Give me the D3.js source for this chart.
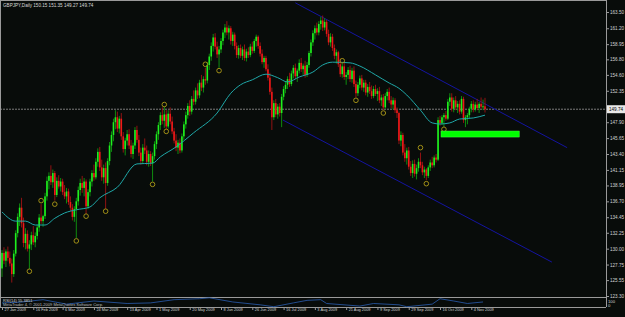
<!DOCTYPE html>
<html>
<head>
<meta charset="utf-8">
<script src="https://cdn.jsdelivr.net/npm/d3@7/dist/d3.min.js"></script>
<style>
  body { margin: 0; background: #080c0a; }
  svg { display: block; }
  text { font-family: "Liberation Sans", Arial, sans-serif; }
</style>
</head>
<body>
<svg id="chart" width="625" height="317"></svg>
<script>
// GBPJPY daily bars, [open, high, low, close]
bars = [
  [127.2,129.8,126.0,129.4],[129.4,130.2,127.8,128.3],[128.3,129.9,127.4,129.6],[129.6,130.3,128.2,128.7],
  [128.7,129.6,127.5,127.9],[127.9,128.6,125.2,126.4],[126.4,129.8,126.0,129.3],[129.3,132.6,128.9,132.2],
  [132.2,135.0,131.6,134.5],[134.5,136.4,133.2,135.8],[135.8,137.2,133.0,133.6],[133.6,134.4,130.2,130.8],
  [130.8,132.9,129.9,132.1],[132.1,132.6,129.6,130.0],[130.0,131.2,127.1,130.6],[130.6,132.4,129.8,131.9],
  [131.9,133.2,130.5,130.9],[130.9,132.3,130.2,131.8],[131.8,133.4,131.3,133.0],[133.0,134.9,132.4,134.4],
  [134.4,136.3,133.5,133.9],[133.9,134.8,133.1,134.6],[134.6,137.9,134.2,137.4],[137.4,140.2,136.8,139.6],
  [139.6,140.8,138.4,140.3],[140.3,141.8,139.0,139.4],[139.4,141.2,138.6,140.7],[140.7,141.0,136.8,137.6],
  [137.6,140.1,137.3,139.6],[139.6,140.4,138.5,138.8],[138.8,140.0,138.1,139.5],[139.5,139.9,137.6,138.0],
  [138.0,139.0,137.0,137.4],[137.4,138.6,136.4,138.1],[138.1,138.5,136.2,136.6],[136.6,137.4,135.3,135.8],
  [135.8,136.3,134.0,134.5],[134.5,136.0,133.8,135.6],[135.6,137.2,131.5,136.7],[136.7,138.8,136.1,138.3],
  [138.3,139.9,137.5,139.3],[139.3,140.3,137.9,138.6],[138.6,140.0,137.4,139.5],[139.5,139.8,134.9,136.0],
  [136.0,138.4,135.6,138.0],[138.0,139.9,137.4,139.5],[139.5,141.1,138.8,140.7],[140.7,141.9,139.6,140.1],
  [140.1,142.8,139.8,142.3],[142.3,144.2,141.6,143.7],[143.7,144.4,141.0,141.5],[141.5,142.6,139.6,140.1],
  [140.1,141.9,139.2,141.4],[141.4,142.2,135.6,139.3],[139.3,142.8,138.9,142.4],[142.4,145.1,141.8,144.6],
  [144.6,146.6,143.7,146.1],[146.1,148.4,145.2,147.9],[147.9,149.6,146.9,148.6],[148.6,149.4,146.5,147.0],
  [147.0,148.8,146.3,148.4],[148.4,149.2,145.4,145.9],[145.9,146.5,143.6,144.1],[144.1,145.7,143.2,145.3],
  [145.3,146.8,144.6,146.2],[146.2,146.9,144.1,144.6],[144.6,145.4,142.9,143.4],[143.4,145.0,142.7,144.6],
  [144.6,147.2,144.1,146.8],[146.8,147.4,145.0,145.4],[145.4,146.1,143.1,143.6],[143.6,144.3,141.9,142.4],
  [142.4,144.8,142.0,144.3],[144.3,145.6,143.4,143.9],[143.9,144.6,141.8,142.3],[142.3,143.9,141.6,143.4],
  [143.4,143.8,141.7,142.1],[142.1,143.6,139.5,143.1],[143.1,145.2,142.6,144.8],[144.8,146.6,144.1,146.2],
  [146.2,147.9,145.4,147.5],[147.5,149.3,146.8,148.9],[148.9,150.0,147.6,148.1],[148.1,150.1,147.1,149.0],
  [149.0,149.6,146.9,147.3],[147.3,149.6,147.0,149.1],[149.1,150.0,147.6,148.0],[148.0,148.7,146.2,146.6],
  [146.6,147.1,144.9,145.3],[145.3,146.2,143.8,144.3],[144.3,145.4,143.4,145.0],[145.0,145.6,143.5,143.9],
  [143.9,146.3,143.6,145.9],[145.9,148.0,145.4,147.6],[147.6,149.4,147.0,148.9],[148.9,150.6,148.4,150.2],
  [150.2,151.0,148.8,149.4],[149.4,151.6,149.0,151.2],[151.2,152.4,150.3,150.8],[150.8,152.8,150.4,152.4],
  [152.4,153.4,151.2,151.7],[151.7,153.9,151.3,153.5],[153.5,154.6,152.3,152.8],[152.8,154.4,152.1,154.0],
  [154.0,155.6,153.2,153.8],[153.8,156.4,153.4,156.0],[156.0,157.6,155.3,157.2],[157.2,159.2,156.6,158.7],
  [158.7,160.4,157.9,159.9],[159.9,160.5,158.2,158.6],[158.6,159.3,157.0,157.5],[157.5,158.7,155.6,158.2],
  [158.2,159.8,157.7,159.4],[159.4,161.0,158.8,160.6],[160.6,161.8,159.8,161.3],[161.3,162.2,160.2,160.6],
  [160.6,161.6,159.6,161.2],[161.2,161.5,158.9,159.4],[159.4,160.7,158.7,160.3],[160.3,160.6,158.2,158.7],
  [158.7,159.2,157.0,157.4],[157.4,158.8,156.9,158.4],[158.4,158.9,157.0,157.3],[157.3,158.6,156.7,158.2],
  [158.2,158.9,156.6,157.0],[157.0,158.3,156.5,157.9],[157.9,158.5,157.0,157.4],[157.4,159.0,157.1,158.6],
  [158.6,159.3,157.6,158.0],[158.0,159.7,157.7,159.4],[159.4,160.3,158.6,160.0],[160.0,160.2,158.3,158.7],
  [158.7,159.2,157.2,157.6],[157.6,158.2,156.1,156.4],[156.4,157.3,155.6,157.0],[157.0,157.3,155.1,155.4],
  [155.4,156.1,153.8,154.2],[154.2,154.9,151.8,152.2],[152.2,152.8,146.8,148.6],[148.6,151.0,148.2,150.6],
  [150.6,151.2,148.6,149.0],[149.0,150.5,148.4,150.1],[150.1,150.6,148.7,149.2],[149.2,151.9,147.2,151.5],
  [151.5,153.0,151.0,152.6],[152.6,153.6,152.0,153.2],[153.2,154.4,152.6,154.0],[154.0,154.9,152.9,153.3],
  [153.3,155.2,153.0,154.8],[154.8,156.0,154.1,155.6],[155.6,156.2,154.0,154.4],[154.4,155.5,153.6,155.2],
  [155.2,156.8,154.8,156.3],[156.3,157.0,155.0,155.4],[155.4,156.2,154.6,155.9],[155.9,156.6,154.2,154.6],
  [154.6,156.4,154.3,156.0],[156.0,158.0,155.6,157.7],[157.7,159.6,157.2,159.2],[159.2,160.9,158.7,160.5],
  [160.5,161.6,159.6,161.2],[161.2,162.0,160.2,160.6],[160.6,162.2,160.2,161.8],[161.8,162.8,161.0,162.3],
  [162.3,163.0,160.8,161.3],[161.3,162.6,160.9,162.1],[162.1,162.4,160.0,160.4],[160.4,161.0,158.8,159.2],
  [159.2,160.5,158.6,160.0],[160.0,160.4,158.0,158.4],[158.4,158.9,156.8,157.3],[157.3,158.2,156.2,157.8],
  [157.8,158.0,155.7,156.1],[156.1,156.9,154.3,154.7],[154.7,156.2,154.2,155.8],[155.8,156.3,153.9,154.3],
  [154.3,155.0,153.2,154.6],[154.6,155.7,154.0,155.3],[155.3,155.9,153.6,154.0],[154.0,155.6,153.5,155.2],
  [155.2,155.8,152.9,153.3],[153.3,153.8,151.4,152.0],[152.0,153.6,151.6,153.2],[153.2,154.5,152.7,154.1],
  [154.1,154.6,152.4,152.8],[152.8,153.9,152.2,153.5],[153.5,153.9,151.7,152.1],[152.1,153.3,151.5,152.9],
  [152.9,153.6,151.9,152.3],[152.3,153.1,151.2,151.6],[151.6,153.0,151.3,152.6],[152.6,153.2,151.6,151.9],
  [151.9,152.7,150.9,152.3],[152.3,152.9,150.6,151.0],[151.0,151.8,150.2,151.4],[151.4,151.9,149.6,150.0],
  [150.0,152.0,149.8,151.6],[151.6,152.6,151.0,152.2],[152.2,152.8,150.6,151.0],[151.0,151.6,149.9,150.4],
  [150.4,151.4,149.7,151.0],[151.0,151.3,149.2,149.6],[149.6,150.0,148.5,149.2],[149.2,149.4,144.8,145.3],
  [145.3,146.6,144.5,146.1],[146.1,146.4,143.2,143.6],[143.6,144.8,142.3,142.8],[142.8,144.3,141.9,143.9],
  [143.9,144.4,141.2,141.6],[141.6,142.4,140.3,140.7],[140.7,142.5,140.0,142.0],[142.0,142.6,140.2,140.6],
  [140.6,141.9,139.8,141.4],[141.4,142.8,140.9,142.3],[142.3,143.6,141.4,141.8],[141.8,142.3,140.4,140.8],
  [140.8,141.6,140.0,141.2],[141.2,141.4,139.7,140.3],[140.3,141.8,140.0,141.5],[141.5,142.6,141.0,142.2],
  [142.2,143.0,141.4,141.8],[141.8,143.2,141.5,142.9],[142.9,143.4,142.2,142.6],[142.6,148.6,142.4,148.2],
  [148.2,148.8,147.4,147.8],[147.8,148.9,147.5,148.6],[148.6,149.2,147.2,148.9],[148.9,149.5,148.1,148.4],
  [148.4,151.2,148.2,150.8],[150.8,152.0,150.2,151.4],[151.4,152.0,149.4,149.8],[149.8,151.4,149.3,151.0],
  [151.0,151.6,149.6,150.0],[150.0,150.9,149.2,150.5],[150.5,151.0,149.0,149.4],[149.4,151.6,149.1,151.2],
  [151.2,151.5,147.8,148.2],[148.2,148.9,147.2,148.6],[148.6,149.2,147.6,148.9],[148.9,150.1,148.4,149.8],
  [149.8,150.9,149.3,150.5],[150.5,151.0,149.3,149.7],[149.7,150.8,149.4,150.4],[150.4,151.2,149.6,149.9],
  [149.9,150.8,149.2,150.5],[150.5,151.4,149.8,150.1],[150.1,151.1,149.6,150.15],[150.15,151.35,149.27,149.74]
];

// moving average, sampled at bar indices
maIdx = [0,7,12,17,22,27,32,38,45,50,59,69,77,81,89,98,110,117,122,128,135,141,146,152,159,164,169,178,183,191,198,203,207,214,220,224,229,234,241,247];
maVals = [135.2,133.9,133.9,133.35,133.35,134.3,135.05,135.5,135.9,137.2,138.7,142.0,142.1,143.0,144.4,146.4,149.2,152.0,153.2,153.9,154.7,154.2,153.6,154.3,155.0,156.0,156.4,156.3,155.85,154.6,153.45,152.7,151.75,149.6,147.8,147.65,147.8,148.35,148.5,148.9];

// fractal circles [bar, price]
fractals = [[14,126.8],[20,136.8],[27,136.3],[38,131.1],[43,134.6],[53,135.3],[77,139.1],[83,150.4],[84,146.6],
  [104,156.1],[111,155.2],[174,156.6],[181,151.0],[195,149.2],[214,144.3],[217,139.2],[226,146.9]];

// channel lines [bar, price] pairs
channelUpper = [[150,164.8],[289,144.3]];
channelLower = [[143.7,148.2],[281.2,128.1]];

// green box: bar from, bar to, price top, price bottom
zone = [224.5, 264.5, 146.65, 145.8];

lastPrice = 149.74;

priceTicks = [163.50,161.20,158.95,156.80,154.60,152.35,147.90,145.65,143.40,141.15,138.95,136.70,134.45,132.25,130.00,127.75,125.55,123.30];

dateIdx = [0,16,31,47,64,79,96,112,128,144,160,176,192,208,224,240];
dateLabels = ["27 Jan 2009","16 Feb 2009","6 Mar 2009","24 Mar 2009","13 Apr 2009","1 May 2009","20 May 2009","8 Jun 2009",
  "26 Jun 2009","16 Jul 2009","3 Aug 2009","21 Aug 2009","9 Sep 2009","29 Sep 2009","16 Oct 2009","4 Nov 2009"];

// lower indicator window
indIdx = [0,9,21,33,47,64,76,88,101,106,118,132,139,149,156,163,166,183,190,203,207,220,224,231,238,246];
indVals = [43,50,77,30,63,37,43,77,87,97,53,23,3,43,70,77,37,10,37,23,3,30,87,63,37,53];

svg = d3.select('#chart');

right = 606;  // price scale edge
bottom = 297; // main window bottom

x = d3.scaleLinear().domain([0, 247]).range([2, 485]);
y = d3.scaleLinear().domain([123.30, 163.50]).range([296, 12]);
yi = d3.scaleLinear().domain([0, 100]).range([307, 297.5]);

svg.append('rect').attr('width', 625).attr('height', 317).attr('fill', '#080c0a');

svg.append('clipPath').attr('id', 'main')
  .append('rect').attr('x', 1).attr('y', 1).attr('width', right - 1).attr('height', bottom - 1);

main = svg.append('g').attr('clip-path', 'url(#main)');

// current price line
main.append('line')
  .attr('x1', 0).attr('x2', right)
  .attr('y1', y(lastPrice)).attr('y2', y(lastPrice))
  .attr('stroke', '#7c7c7c').attr('stroke-dasharray', '2,1');

// channel
[channelUpper, channelLower].forEach(function(c) {
  main.append('line')
    .attr('x1', x(c[0][0])).attr('y1', y(c[0][1]))
    .attr('x2', x(c[1][0])).attr('y2', y(c[1][1]))
    .attr('stroke', '#1414a0').attr('stroke-width', 1);
});

// candles
candle = main.append('g').selectAll('g').data(bars).enter().append('g');
candle.append('line')
  .attr('x1', (d, i) => x(i)).attr('x2', (d, i) => x(i))
  .attr('y1', d => y(d[1])).attr('y2', d => y(d[2]))
  .attr('stroke', d => d[3] >= d[0] ? '#109a10' : '#a01414')
  .attr('stroke-width', 0.9);
candle.append('rect')
  .attr('x', (d, i) => x(i) - 0.8)
  .attr('width', 1.6)
  .attr('y', d => y(Math.max(d[0], d[3])))
  .attr('height', d => Math.max(1, Math.abs(y(d[0]) - y(d[3]))))
  .attr('fill', d => d[3] >= d[0] ? '#1ef01e' : '#f01818');

// moving average
main.append('path')
  .datum(maIdx.map((d, i) => [d, maVals[i]]))
  .attr('d', d3.line().x(d => x(d[0])).y(d => y(d[1])).curve(d3.curveMonotoneX))
  .attr('fill', 'none').attr('stroke', '#1fa8a8').attr('stroke-width', 1);

// fractals
main.selectAll('circle.fr').data(fractals).enter().append('circle')
  .attr('class', 'fr')
  .attr('cx', d => x(d[0])).attr('cy', d => y(d[1]))
  .attr('r', 2.3)
  .attr('fill', 'none').attr('stroke', '#a08f16').attr('stroke-width', 1);

// green box
main.append('rect')
  .attr('x', x(zone[0])).attr('width', x(zone[1]) - x(zone[0]))
  .attr('y', y(zone[2])).attr('height', y(zone[3]) - y(zone[2]))
  .attr('fill', '#00ff00').attr('stroke', '#44ff44').attr('stroke-width', 0.5);

// frames
frame = '#9a9a9a';
svg.append('line').attr('x1', 0.5).attr('x2', 0.5).attr('y1', 0).attr('y2', 307).attr('stroke', frame);
svg.append('line').attr('x1', 0).attr('x2', right).attr('y1', 0.5).attr('y2', 0.5).attr('stroke', frame);
svg.append('line').attr('x1', right + 0.5).attr('x2', right + 0.5).attr('y1', 0).attr('y2', 307).attr('stroke', frame);
svg.append('line').attr('x1', 0).attr('x2', right).attr('y1', bottom + 0.5).attr('y2', bottom + 0.5).attr('stroke', frame);
svg.append('line').attr('x1', 0).attr('x2', right).attr('y1', 307.5).attr('y2', 307.5).attr('stroke', frame);

// price axis
yaxis = d3.axisRight(y).tickValues(priceTicks).tickFormat(d3.format('.2f')).tickSizeInner(3).tickSizeOuter(0).tickPadding(1);
ga = svg.append('g').attr('transform', 'translate(' + right + ',0)').call(yaxis);
ga.select('.domain').remove();
ga.selectAll('line').attr('stroke', frame);
ga.selectAll('text').attr('fill', '#d2d2d2').style('font-size', '4.6px');

// current price label
svg.append('rect').attr('x', right + 1).attr('y', y(lastPrice) - 4).attr('width', 18).attr('height', 8).attr('fill', '#e8e8e8');
svg.append('text').attr('x', right + 3).attr('y', y(lastPrice) + 1.7)
  .text(lastPrice.toFixed(2)).attr('fill', '#000').style('font-size', '4.6px');

// date axis
xaxis = d3.axisBottom(x).tickValues(dateIdx).tickFormat((d, i) => dateLabels[i]).tickSizeInner(3).tickSizeOuter(0).tickPadding(0);
gx = svg.append('g').attr('transform', 'translate(0,307)').call(xaxis);
gx.select('.domain').remove();
gx.selectAll('line').attr('stroke', frame);
gx.selectAll('text').attr('text-anchor', 'start').attr('x', 2).attr('dy', '0.3em')
  .attr('fill', '#d2d2d2').style('font-size', '3.9px');

// indicator window
svg.append('path')
  .datum(indIdx.map((d, i) => [d, indVals[i]]))
  .attr('d', d3.line().x(d => x(d[0])).y(d => yi(d[1])))
  .attr('fill', 'none').attr('stroke', '#2a5db0').attr('stroke-width', 0.8);
svg.append('text').attr('x', right + 2).attr('y', 302.5).text('100').attr('fill', '#d2d2d2').style('font-size', '4.2px');
svg.append('text').attr('x', right + 2).attr('y', 307).text('0').attr('fill', '#d2d2d2').style('font-size', '4.2px');

// labels
svg.append('text').attr('x', 3).attr('y', 7)
  .text('GBPJPY,Daily  150.15 151.35 149.27 149.74').attr('fill', '#d8d8d8').style('font-size', '4.6px');
svg.append('text').attr('x', 3).attr('y', 301.5)
  .text('RSI(14) 55.3851').attr('fill', '#d8d8d8').style('font-size', '4px');
svg.append('text').attr('x', 3).attr('y', 305.5)
  .text('MetaTrader 4, \u00a9 2001-2009 MetaQuotes Software Corp.').attr('fill', '#bdbdbd').style('font-size', '4px');
</script>
</body>
</html>
